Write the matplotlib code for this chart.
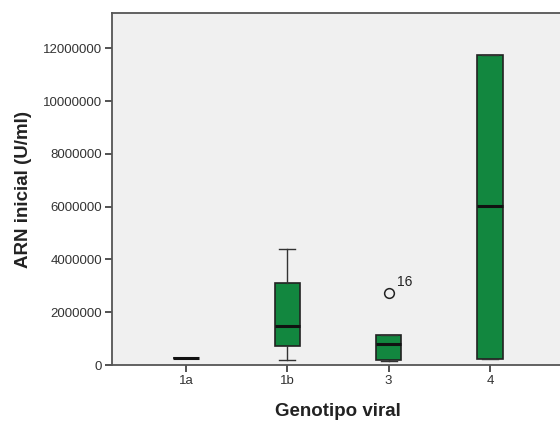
import matplotlib
matplotlib.use("Agg")
import matplotlib.pyplot as plt

plt.rcParams['font.family'] = ['Liberation Sans', 'DejaVu Sans']

categories = ["1a", "1b", "3", "4"]
whislo = [265000, 190000, 150000, 230000]
q1 = [265000, 720000, 190000, 230000]
med = [265000, 1480000, 800000, 6020000]
q3 = [265000, 3100000, 1140000, 11740000]
whishi = [265000, 4390000, 1140000, 11740000]
outlier_cat = ["3"]
outlier_val = [2730000]
outlier_lab = ["16"]
yticks = [0, 2000000, 4000000, 6000000, 8000000, 10000000, 12000000]

fig = plt.figure(figsize=(5.6, 4.23), dpi=100)
ax = fig.add_axes([0.2, 0.137, 0.807, 0.832])
ax.set_facecolor('#f0f0f0')

stats = []
for i, c in enumerate(categories):
    stats.append(dict(label=c, whislo=whislo[i], q1=q1[i], med=med[i],
                      q3=q3[i], whishi=whishi[i], fliers=[]))
pos = list(range(len(categories)))
ax.bxp(stats, positions=pos, widths=0.25, patch_artist=True, showfliers=False,
       boxprops=dict(facecolor='#12873f', edgecolor='#222222', linewidth=1.2),
       medianprops=dict(color='#111111', linewidth=2.2),
       whiskerprops=dict(color='#333333', linewidth=1.0),
       capprops=dict(color='#333333', linewidth=1.0),
       capwidths=0.16)

for c, v, lab in zip(outlier_cat, outlier_val, outlier_lab):
    x = categories.index(c)
    ax.plot([x], [v], marker='o', markersize=7, markerfacecolor='none',
            markeredgecolor='#222222', markeredgewidth=1.1, linestyle='none')
    ax.annotate(lab, (x, v), xytext=(6, 5), textcoords='offset points',
                fontsize=10, color='#222222')

ax.set_xlim(-0.73, 3.73)
ax.set_ylim(0, 13330000)
ax.set_yticks(yticks)
ax.set_yticklabels([str(t) for t in yticks])
ax.set_xticks(pos)
ax.set_xticklabels(categories)
ax.tick_params(axis='both', direction='out', length=5, width=1.3, colors='#444444',
               labelsize=9.5, labelcolor='#333333', pad=2)
for s in ['left', 'bottom', 'top']:
    ax.spines[s].set_color('#555555')
    ax.spines[s].set_linewidth(1.3)
ax.spines['right'].set_visible(False)

ax.set_ylabel('ARN inicial (U/ml)', fontsize=13.5, fontweight='bold', color='#222222', labelpad=8)
ax.set_xlabel('Genotipo viral', fontsize=13.5, fontweight='bold', color='#222222', labelpad=12)

fig.savefig('out.png', dpi=100)
